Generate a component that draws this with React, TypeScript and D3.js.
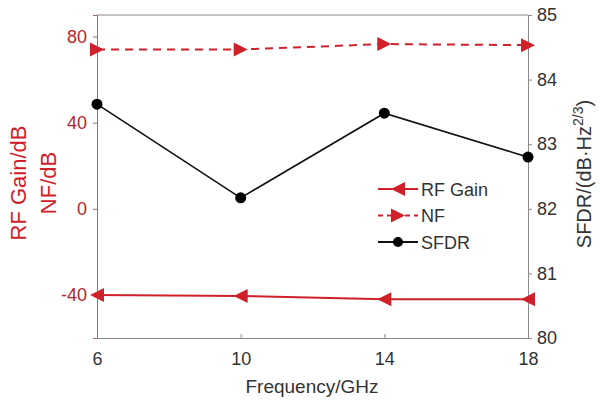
import React, { useEffect, useRef } from "react";
import * as d3 from "d3";

// frequency points (GHz)
const freqs = [6, 10, 14, 18];
// left axis series (dB)
const rfGain = [-40, -40.5, -42, -42];
const nf = [74, 74, 76.5, 76];
// right axis series (dB·Hz^(2/3))
const sfdr = [83.62, 82.17, 83.48, 82.8];

const xTicks = [6, 10, 14, 18];
const leftTicks = [-40, 0, 40, 80];
const rightTicks = [80, 81, 82, 83, 84, 85];

const RED = "#d0212b";
const RED_TEXT = "#b3262c";
const GREY_TEXT = "#333";

export default function App() {
  const ref = useRef<SVGSVGElement>(null);

  useEffect(() => {
    const svg = d3.select(ref.current);
    svg.selectAll("*").remove();

    const left = 97, right = 528, top = 15, bottom = 338;
    const font = "Arial, 'Liberation Sans', sans-serif";
    const fmt = (d: d3.NumberValue) => String(d);

    const x = d3.scaleLinear().domain([6, 18]).range([left, right]);
    const yL = d3.scaleLinear().domain([-60, 90]).range([bottom, top]);
    const yR = d3.scaleLinear().domain([80, 85]).range([bottom, top]);

    svg.append("rect").attr("width", 600).attr("height", 400).attr("fill", "#fff");

    // frame
    svg.append("line").attr("x1", left).attr("x2", right).attr("y1", top).attr("y2", top)
      .attr("stroke", "#8a8a8a").attr("stroke-width", 1);

    // bottom axis
    const xAxis = svg.append("g").attr("transform", `translate(0,${bottom})`)
      .call(d3.axisBottom(x).tickValues(xTicks).tickSize(-4).tickPadding(14).tickFormat(fmt));
    xAxis.select(".domain").attr("stroke", "#8a8a8a");
    xAxis.selectAll(".tick line").attr("stroke", "#8a8a8a");
    xAxis.selectAll("text").attr("font-size", 18).attr("font-family", font).attr("fill", GREY_TEXT);

    // left axis
    const yAxisL = svg.append("g").attr("transform", `translate(${left},0)`)
      .call(d3.axisLeft(yL).tickValues(leftTicks).tickSize(4).tickPadding(6).tickFormat(fmt));
    yAxisL.select(".domain").attr("stroke", "#a06a6c");
    yAxisL.selectAll(".tick line").attr("stroke", "#a06a6c");
    yAxisL.selectAll("text").attr("font-size", 18).attr("font-family", font).attr("fill", RED_TEXT);

    // right axis
    const yAxisR = svg.append("g").attr("transform", `translate(${right},0)`)
      .call(d3.axisRight(yR).tickValues(rightTicks).tickSize(4).tickPadding(5).tickFormat(fmt));
    yAxisR.select(".domain").attr("stroke", "#8a8a8a");
    yAxisR.selectAll(".tick line").attr("stroke", "#8a8a8a");
    yAxisR.selectAll("text").attr("font-size", 18).attr("font-family", font).attr("fill", GREY_TEXT);

    // axis titles
    svg.append("text").attr("x", 312).attr("y", 393).attr("text-anchor", "middle")
      .attr("font-size", 19).attr("font-family", font).attr("fill", GREY_TEXT).text("Frequency/GHz");

    const lt = svg.append("g").attr("transform", "translate(0,183) rotate(-90)");
    lt.append("text").attr("x", 0).attr("y", 26).attr("text-anchor", "middle")
      .attr("font-size", 22).attr("font-family", font).attr("fill", RED).text("RF Gain/dB");
    lt.append("text").attr("x", 0).attr("y", 56).attr("text-anchor", "middle")
      .attr("font-size", 22).attr("font-family", font).attr("fill", RED).text("NF/dB");

    const rt = svg.append("text").attr("transform", "translate(591,174) rotate(-90)")
      .attr("text-anchor", "middle").attr("font-size", 20).attr("font-family", font).attr("fill", GREY_TEXT);
    rt.append("tspan").text("SFDR/(dB·Hz");
    rt.append("tspan").attr("dy", -8).attr("font-size", 14).text("2/3");
    rt.append("tspan").attr("dy", 8).text(")");

    const tri = (dir: number) => {
      // dir: -1 left-pointing, 1 right-pointing
      const s = 7;
      return `M${dir * s},0L${-dir * s},${-s}L${-dir * s},${s}Z`;
    };

    const lineL = (vals: number[]) =>
      d3.line<number>().x((_, i) => x(freqs[i])).y(v => yL(v))(vals);

    // RF Gain
    svg.append("path").attr("d", lineL(rfGain)).attr("fill", "none").attr("stroke", RED).attr("stroke-width", 2);
    svg.selectAll(".rfm").data(rfGain).enter().append("path")
      .attr("transform", (v, i) => `translate(${x(freqs[i])},${yL(v)})`)
      .attr("d", tri(-1)).attr("fill", RED);

    // NF
    svg.append("path").attr("d", lineL(nf)).attr("fill", "none").attr("stroke", RED)
      .attr("stroke-width", 2).attr("stroke-dasharray", "8,6");
    svg.selectAll(".nfm").data(nf).enter().append("path")
      .attr("transform", (v, i) => `translate(${x(freqs[i])},${yL(v)})`)
      .attr("d", tri(1)).attr("fill", RED);

    // SFDR
    const lineR = d3.line<number>().x((_, i) => x(freqs[i])).y(v => yR(v));
    svg.append("path").attr("d", lineR(sfdr)).attr("fill", "none").attr("stroke", "#111").attr("stroke-width", 1.6);
    svg.selectAll(".sm").data(sfdr).enter().append("circle")
      .attr("cx", (_, i) => x(freqs[i])).attr("cy", v => yR(v)).attr("r", 5.5).attr("fill", "#000");

    // legend
    const lg = svg.append("g").attr("font-family", font).attr("font-size", 18).attr("fill", GREY_TEXT);
    const items = [
      { name: "RF Gain", color: RED, dash: null, mark: "tl" },
      { name: "NF", color: RED, dash: "5,4", mark: "tr" },
      { name: "SFDR", color: "#111", dash: null, mark: "c" },
    ];
    items.forEach((it, i) => {
      const yy = 189 + i * 26.5;
      lg.append("line").attr("x1", 378).attr("x2", 418).attr("y1", yy).attr("y2", yy)
        .attr("stroke", it.color).attr("stroke-width", 2).attr("stroke-dasharray", it.dash);
      if (it.mark === "c") {
        lg.append("circle").attr("cx", 398).attr("cy", yy).attr("r", 5).attr("fill", "#000");
      } else {
        lg.append("path").attr("transform", `translate(398,${yy})`)
          .attr("d", tri(it.mark === "tl" ? -1 : 1)).attr("fill", RED);
      }
      lg.append("text").attr("x", 421).attr("y", yy + 6.5).text(it.name);
    });
  }, []);

  return (
    <svg ref={ref} width={600} height={400} style={{ position: "absolute", left: 0, top: 0 }} />
  );
}
